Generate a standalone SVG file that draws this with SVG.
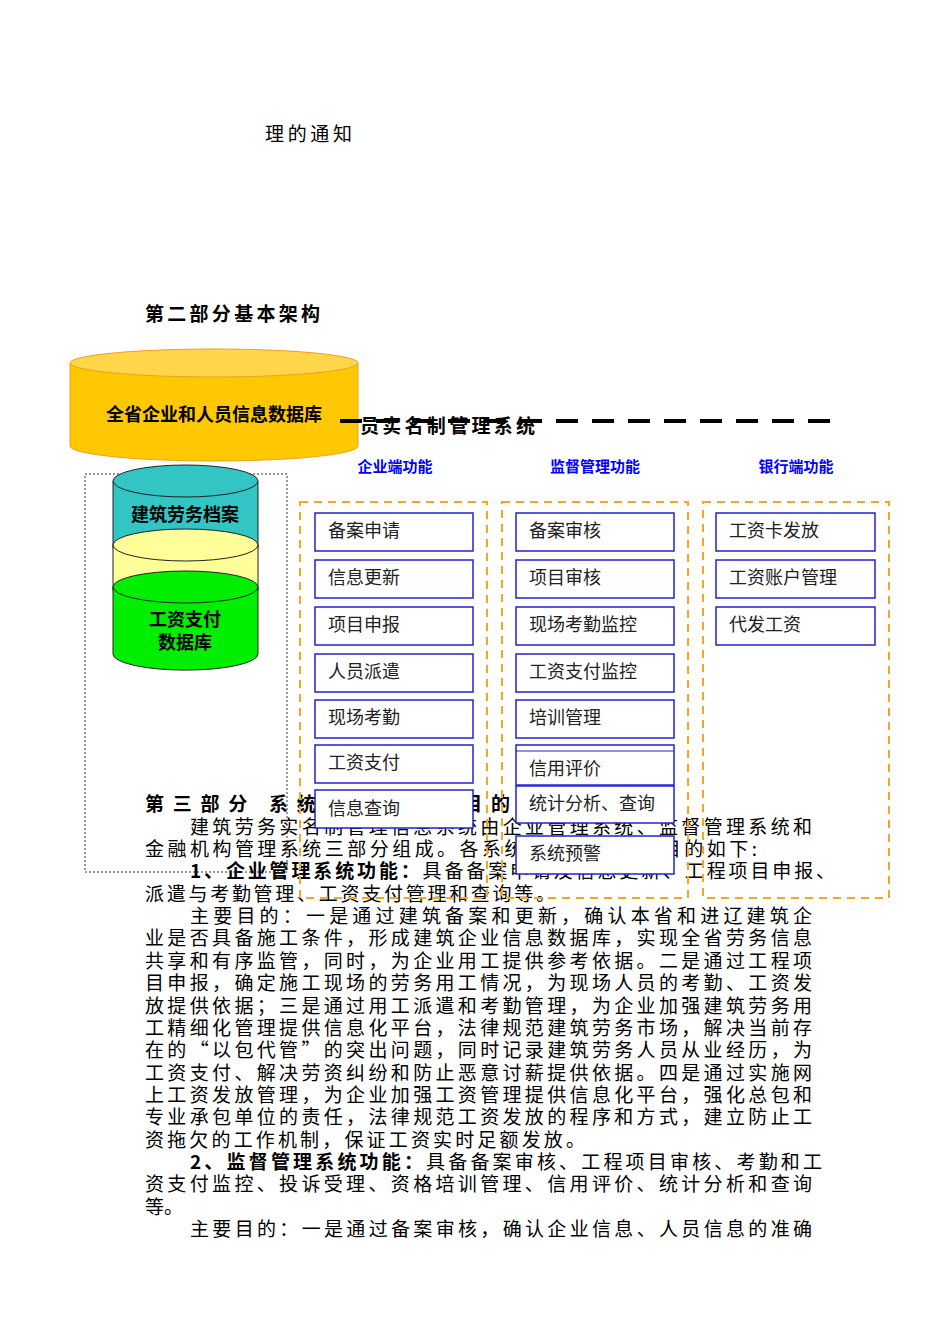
<svg xmlns="http://www.w3.org/2000/svg" width="950" height="1344" viewBox="0 0 950 1344">
<style>
.t{font-family:"Noto Sans CJK SC","Liberation Serif",serif;font-size:19px;fill:#000}
.b{font-weight:bold}
.h{font-family:"Noto Sans CJK SC","Liberation Sans",sans-serif;font-size:15px;fill:#0000ff;font-weight:bold;text-anchor:middle}
.bx{fill:#fff;stroke:#2222cc;stroke-width:1.5}
.bt{font-family:"Noto Sans CJK SC","Liberation Sans",sans-serif;font-size:18px;fill:#222}
.col{fill:none;stroke:#f5a623;stroke-width:2;stroke-dasharray:8 6}
.ct{font-family:"Noto Sans CJK SC","Liberation Sans",sans-serif;font-size:18px;font-weight:bold;text-anchor:middle;fill:#000}
</style>
<rect width="950" height="1344" fill="#fff"/>
<text class="t" x="265" y="141" textLength="87">理的通知</text>
<text class="t b" x="145" y="321" textLength="175">第二部分基本架构</text>
<g id="body">
<text class="t" x="190" y="834" textLength="622">建筑劳务实名制管理信息系统由企业管理系统、监督管理系统和</text>
<text class="t" x="145" y="856" textLength="612">金融机构管理系统三部分组成。各系统的主要功能和目的如下:</text>
<text class="t" x="190" y="878" textLength="645"><tspan class="b">1、企业管理系统功能：</tspan>具备备案申请及信息更新、工程项目申报、</text>
<text class="t" x="145" y="901" textLength="410">派遣与考勤管理、工资支付管理和查询等。</text>
<text class="t" x="190" y="923" textLength="622">主要目的：一是通过建筑备案和更新，确认本省和进辽建筑企</text>
<text class="t" x="145" y="945" textLength="667">业是否具备施工条件，形成建筑企业信息数据库，实现全省劳务信息</text>
<text class="t" x="145" y="968" textLength="667">共享和有序监管，同时，为企业用工提供参考依据。二是通过工程项</text>
<text class="t" x="145" y="990" textLength="667">目申报，确定施工现场的劳务用工情况，为现场人员的考勤、工资发</text>
<text class="t" x="145" y="1013" textLength="667">放提供依据；三是通过用工派遣和考勤管理，为企业加强建筑劳务用</text>
<text class="t" x="145" y="1035" textLength="667">工精细化管理提供信息化平台，法律规范建筑劳务市场，解决当前存</text>
<text class="t" x="145" y="1057" textLength="667">在的“以包代管”的突出问题，同时记录建筑劳务人员从业经历，为</text>
<text class="t" x="145" y="1080" textLength="667">工资支付、解决劳资纠纷和防止恶意讨薪提供依据。四是通过实施网</text>
<text class="t" x="145" y="1102" textLength="667">上工资发放管理，为企业加强工资管理提供信息化平台，强化总包和</text>
<text class="t" x="145" y="1124" textLength="667">专业承包单位的责任，法律规范工资发放的程序和方式，建立防止工</text>
<text class="t" x="145" y="1147" textLength="440">资拖欠的工作机制，保证工资实时足额发放。</text>
<text class="t" x="190" y="1169" textLength="632"><tspan class="b">2、监督管理系统功能：</tspan>具备备案审核、工程项目审核、考勤和工</text>
<text class="t" x="145" y="1191" textLength="667">资支付监控、投诉受理、资格培训管理、信用评价、统计分析和查询</text>
<text class="t" x="145" y="1214">等。</text>
<text class="t" x="190" y="1236" textLength="622">主要目的：一是通过备案审核，确认企业信息、人员信息的准确</text>
<text class="t b" x="145" y="811" textLength="365">第三部分 系统组成和主要目的</text>
</g>
<g id="db-main">
<path d="M70 363 V446 A144 15 0 0 0 358 446 V363 Z" fill="#ffc800" stroke="#f0a020"/>
<ellipse cx="214" cy="363" rx="144" ry="14" fill="#ffd54a" stroke="#f0a020"/>
<text class="ct" x="214" y="421">全省企业和人员信息数据库</text>
</g>
<g id="connectors">
<line x1="340" y1="421" x2="832" y2="421" stroke="#000" stroke-width="4" stroke-dasharray="22 14"/>
<rect x="85" y="474" width="202" height="398" fill="none" stroke="#333" stroke-dasharray="2 2"/>
</g>
<text x="360" y="433" font-family="Noto Sans CJK SC,Liberation Serif,serif" font-size="19" font-weight="bold" textLength="175">员实名制管理系统</text>
<g id="db-stack">
<path d="M113 481 V548 A72 16 0 0 0 258 548 V481 Z" fill="#33c4c4" stroke="#222"/>
<ellipse cx="185.5" cy="481" rx="72.5" ry="16" fill="#33c4c4" stroke="#222"/>
<text class="ct" x="185" y="521">建筑劳务档案</text>
<path d="M113 545 V590 A72 16 0 0 0 258 590 V545 Z" fill="#ffff99" stroke="#222"/>
<ellipse cx="185.5" cy="545" rx="72.5" ry="16" fill="#ffff99" stroke="#222"/>
<path d="M113 587 V654 A72 16 0 0 0 258 654 V587 Z" fill="#00ee00" stroke="#222"/>
<ellipse cx="185.5" cy="587" rx="72.5" ry="16" fill="#00ee00" stroke="#222"/>
<text class="ct" x="185" y="626">工资支付</text>
<text class="ct" x="185" y="649">数据库</text>
</g>
<text class="h" x="395" y="472">企业端功能</text>
<text class="h" x="595" y="472">监督管理功能</text>
<text class="h" x="796" y="472">银行端功能</text>
<rect class="col" x="300" y="502" width="187" height="396"/>
<rect class="col" x="502" y="502" width="186" height="396"/>
<rect class="col" x="703" y="502" width="186" height="396"/>
<g id="col1">
<rect class="bx" x="315" y="513" width="158" height="38"/><text class="bt" x="328" y="537">备案申请</text>
<rect class="bx" x="315" y="560" width="158" height="38"/><text class="bt" x="328" y="584">信息更新</text>
<rect class="bx" x="315" y="607" width="158" height="38"/><text class="bt" x="328" y="631">项目申报</text>
<rect class="bx" x="315" y="654" width="158" height="38"/><text class="bt" x="328" y="678">人员派遣</text>
<rect class="bx" x="315" y="700" width="158" height="38"/><text class="bt" x="328" y="724">现场考勤</text>
<rect class="bx" x="315" y="745" width="158" height="38"/><text class="bt" x="328" y="769">工资支付</text>
<rect class="bx" x="315" y="790" width="158" height="38"/><text class="bt" x="328" y="815">信息查询</text>
</g>
<g id="col2">
<rect class="bx" x="516" y="513" width="158" height="38"/><text class="bt" x="529" y="537">备案审核</text>
<rect class="bx" x="516" y="560" width="158" height="38"/><text class="bt" x="529" y="584">项目审核</text>
<rect class="bx" x="516" y="607" width="158" height="38"/><text class="bt" x="529" y="631">现场考勤监控</text>
<rect class="bx" x="516" y="654" width="158" height="38"/><text class="bt" x="529" y="678">工资支付监控</text>
<rect class="bx" x="516" y="700" width="158" height="38"/><text class="bt" x="529" y="724">培训管理</text>
<rect class="bx" x="516" y="745" width="158" height="40"/><text class="bt" x="529" y="775">信用评价</text>
<line x1="516" y1="751" x2="674" y2="751" stroke="#2222cc"/>
<rect class="bx" x="516" y="786" width="158" height="37"/><text class="bt" x="529" y="810">统计分析、查询</text>
<rect class="bx" x="516" y="836" width="158" height="38"/><text class="bt" x="529" y="860">系统预警</text>
</g>
<g id="col3">
<rect class="bx" x="716" y="513" width="159" height="38"/><text class="bt" x="729" y="537">工资卡发放</text>
<rect class="bx" x="716" y="560" width="159" height="38"/><text class="bt" x="729" y="584">工资账户管理</text>
<rect class="bx" x="716" y="607" width="159" height="38"/><text class="bt" x="729" y="631">代发工资</text>
</g>
</svg>
